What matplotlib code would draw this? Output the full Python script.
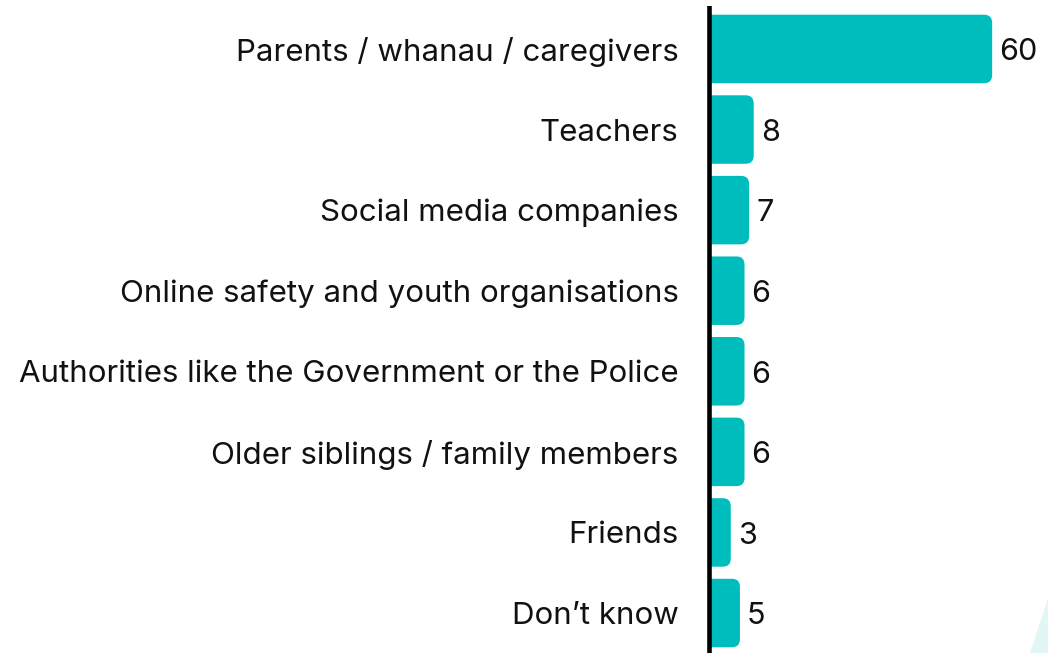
import matplotlib
matplotlib.use("Agg")
import matplotlib.pyplot as plt
from matplotlib.patches import FancyBboxPatch, Polygon, Rectangle

categories = [
    "Parents / whanau / caregivers",
    "Teachers",
    "Social media companies",
    "Online safety and youth organisations",
    "Authorities like the Government or the Police",
    "Older siblings / family members",
    "Friends",
    "Don\u2019t know",
]
values = [60, 8, 7, 6, 6, 6, 3, 5]

W, H = 1048, 653
fig = plt.figure(figsize=(W / 100, H / 100), dpi=100)
plt.rcParams["font.family"] = ["Inter", "DejaVu Sans"]

# x scale: ~4.586 px per unit, zero at pixel 717
px = 4.586
ax = fig.add_axes([705 / W, 0, (W - 705) / W, (H - 6) / H])
x0 = -12 / px
ax.set_xlim(x0, x0 + (W - 705) / px)
ax.set_ylim(7.496, -0.533)

bar_color = "#00bdbd"
rx = 1.75
aspect = 0.1 / rx
bar_left = -6 / px
for i, v in enumerate(values):
    box = FancyBboxPatch((bar_left - 5, i - 0.425), v - bar_left + 5, 0.85,
                         boxstyle="round,pad=0,rounding_size=%f" % rx,
                         mutation_aspect=aspect, facecolor=bar_color,
                         edgecolor="none")
    ax.add_patch(box)
    box.set_clip_path(Rectangle((bar_left, -2), 200, 20, transform=ax.transData))
    ax.text(v + 1.55, i + 0.04, str(v), va="center", ha="left",
            fontsize=22, color="#111111")

# vertical axis line
ax.axvline(bar_left - 2.3 / px, color="black", lw=3.3)

ax.set_yticks(range(len(categories)))
ax.set_yticklabels(categories, fontsize=22.5, color="#111111")
ax.tick_params(axis="y", length=0, pad=19)
ax.set_xticks([])
for s in ["top", "right", "bottom", "left"]:
    ax.spines[s].set_visible(False)

# faint decorative shape in the bottom right corner
fig.patches.append(Polygon([(1030 / W, 0), (1048 / W, 0), (1048 / W, 55 / H)],
                           closed=True, transform=fig.transFigure,
                           facecolor="#e3f6f6", edgecolor="none"))

fig.savefig("out.png", dpi=100)
